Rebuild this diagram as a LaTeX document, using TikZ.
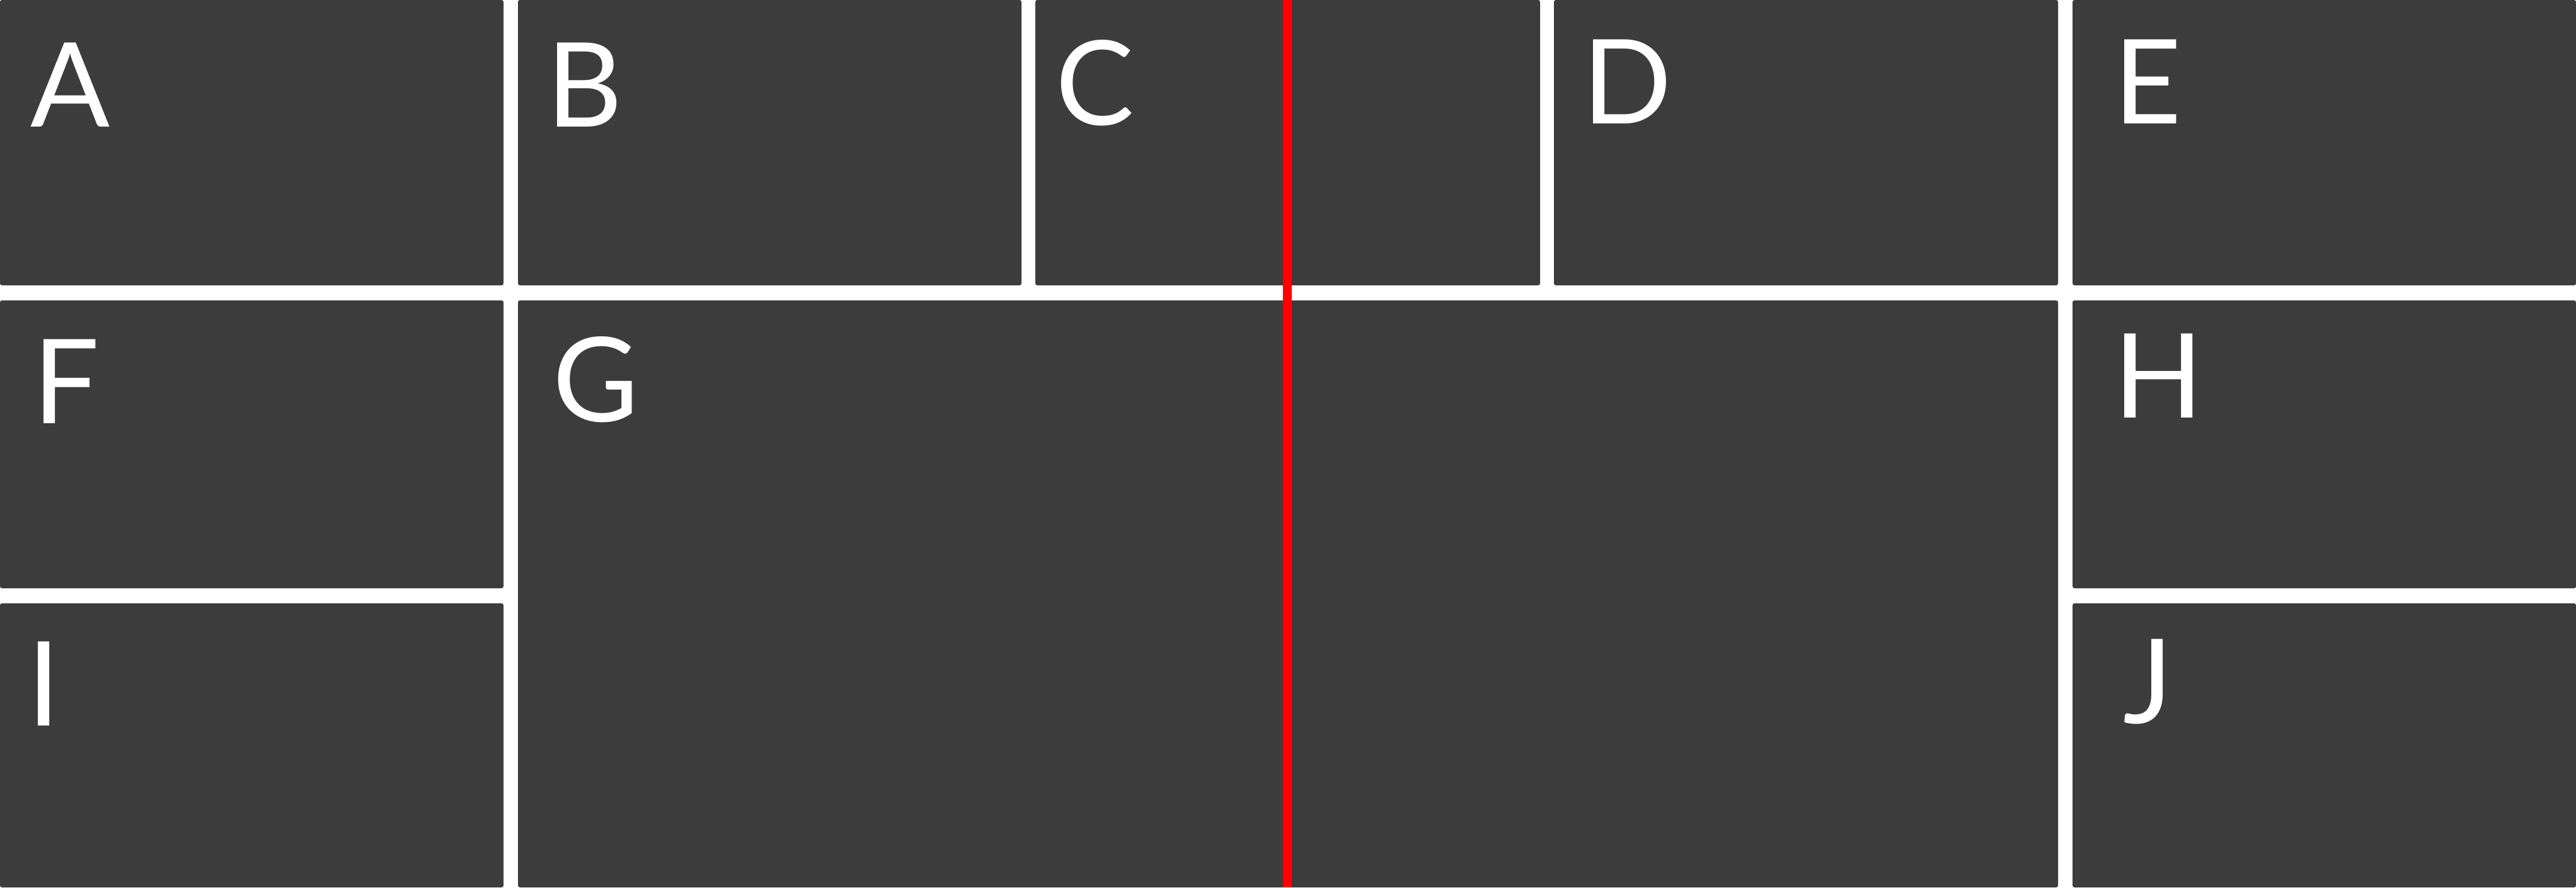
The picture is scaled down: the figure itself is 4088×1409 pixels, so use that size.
\documentclass[tikz,border=0pt]{standalone}
\usepackage{fontspec}
\setmainfont{Lato}
\definecolor{panel}{HTML}{3C3C3C}
\definecolor{cut}{HTML}{FF0000}
\tikzset{
  panelbox/.style={fill=panel, rounded corners=0.03cm},
  lbl/.style={anchor=base west, inner sep=0pt, outer sep=0pt, text=white, font=\fontsize{53}{60}\selectfont},
}
\begin{document}
\begin{tikzpicture}[x=0.01cm,y=-0.01cm]
\useasboundingbox (0,0) rectangle (4088,1409);
\fill[white] (0,0) rectangle (4088,1409);
% row 1
\path[panelbox] (0,0) rectangle (799,453);
\path[panelbox] (822,0) rectangle (1621,453);
\path[panelbox] (1643,0) rectangle (2444,453);
\path[panelbox] (2466,0) rectangle (3266,453);
\path[panelbox] (3289,0) rectangle (4088,453);
% rows 2 and 3
\path[panelbox] (0,477) rectangle (799,934);
\path[panelbox] (822,477) rectangle (3266,1409);
\path[panelbox] (3289,477) rectangle (4088,934);
\path[panelbox] (0,958) rectangle (799,1409);
\path[panelbox] (3289,958) rectangle (4088,1409);
% red cut line
\coordinate (cuttop) at (2043,0);
\coordinate (cutbot) at (2043,1409);
\draw[cut, line width=0.14cm] (cuttop) -- (cutbot);
% labels
\node[lbl] (A) at (48,201) {A};
\node[lbl] (B) at (867,201) {B};
\node[lbl] (C) at (1675,198) {C};
\node[lbl] (D) at (2511,196) {D};
\node[lbl] (E) at (3354,196) {E};
\node[lbl] (F) at (52,672) {F};
\node[lbl] (G) at (877,669) {G};
\node[lbl] (H) at (3354,663) {H};
\node[lbl] (I) at (43,1152) {I};
\node[lbl] (J) at (3369,1148) {J};
\end{tikzpicture}
\end{document}
